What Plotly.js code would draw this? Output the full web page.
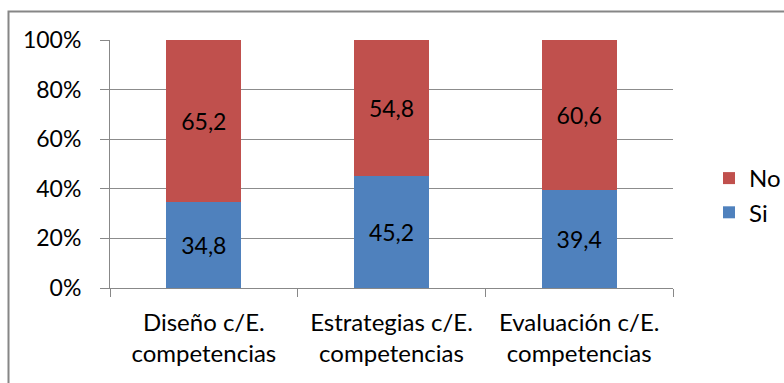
<!DOCTYPE html>
<html>
<head>
<meta charset="utf-8">
<script src="https://cdn.plot.ly/plotly-3.0.1.min.js"></script>
<style>
  html, body { margin: 0; padding: 0; background: #fff; }
  #chart { width: 784px; height: 383px; }
</style>
</head>
<body>
<div id="chart"></div>
<script>
// Share of answers per planning area (percent, stacked to 100%)
const categories = [
  'Diseño c/E.<br>competencias',
  'Estrategias c/E.<br>competencias',
  'Evaluación c/E.<br>competencias'
];
const siValues = [34.8, 45.2, 39.4];
const noValues = [65.2, 54.8, 60.6];
const yTickValues = [0, 20, 40, 60, 80, 100];
const yTickLabels = ['0%', '20%', '40%', '60%', '80%', '100%'];

const FONT = 'Lato, "Open Sans", sans-serif';
const SIZE = 23;
const fmt = v => v.toFixed(1).replace('.', ',');

const traces = [
  {
    type: 'bar', name: 'Si', x: categories, y: siValues,
    marker: { color: '#4F81BD' },
    text: siValues.map(fmt), textposition: 'inside', insidetextanchor: 'middle',
    textfont: { color: '#000', size: SIZE, family: FONT },
    hoverinfo: 'skip'
  },
  {
    type: 'bar', name: 'No', x: categories, y: noValues,
    marker: { color: '#C0504D' },
    text: noValues.map(fmt), textposition: 'inside', insidetextanchor: 'middle',
    textfont: { color: '#000', size: SIZE, family: FONT },
    hoverinfo: 'skip'
  }
];

// plot area: x 110..673, y 40..288
const L = 110, R = 673, T = 40, B = 288, W = 784, H = 383;
const pw = R - L, ph = B - T;
const px = v => (v - L) / pw;
const py = v => (B - v) / ph;

const layout = {
  width: W, height: H,
  margin: { l: L, r: W - R, t: T, b: H - B, pad: 0, autoexpand: false },
  barmode: 'stack',
  bargap: 0.6,
  paper_bgcolor: '#fff', plot_bgcolor: '#fff',
  font: { family: FONT, size: SIZE, color: '#000' },
  showlegend: true,
  legend: {
    x: px(709), y: py(156), xanchor: 'left', yanchor: 'top',
    traceorder: 'reversed', font: { size: 24, family: FONT },
    itemwidth: 30, tracegroupgap: 0, bgcolor: 'rgba(0,0,0,0)'
  },
  xaxis: {
    type: 'category', showgrid: false, showline: true, linecolor: '#888', linewidth: 1,
    ticks: 'outside', tickson: 'boundaries', ticklen: 8, tickcolor: '#888',
    ticklabelstandoff: 13,
    tickfont: { size: 24, family: FONT }, fixedrange: true, automargin: false
  },
  yaxis: {
    range: [0, 100], tickvals: yTickValues, ticktext: yTickLabels,
    showgrid: true, gridcolor: '#8c8c8c', gridwidth: 1,
    showline: true, linecolor: '#888', linewidth: 1,
    ticks: 'outside', ticklen: 9, tickcolor: '#888',
    ticklabelstandoff: 14,
    tickfont: { size: SIZE, family: FONT }, zeroline: false, fixedrange: true, automargin: false
  },
  shapes: [
    {
      type: 'rect', xref: 'paper', yref: 'paper',
      x0: px(8.5), x1: px(800), y0: py(400), y1: py(11.5),
      line: { color: '#868686', width: 2 }, fillcolor: 'rgba(0,0,0,0)', layer: 'below'
    }
  ]
};

Plotly.newPlot('chart', traces, layout, { displayModeBar: false, staticPlot: true });
</script>
</body>
</html>
